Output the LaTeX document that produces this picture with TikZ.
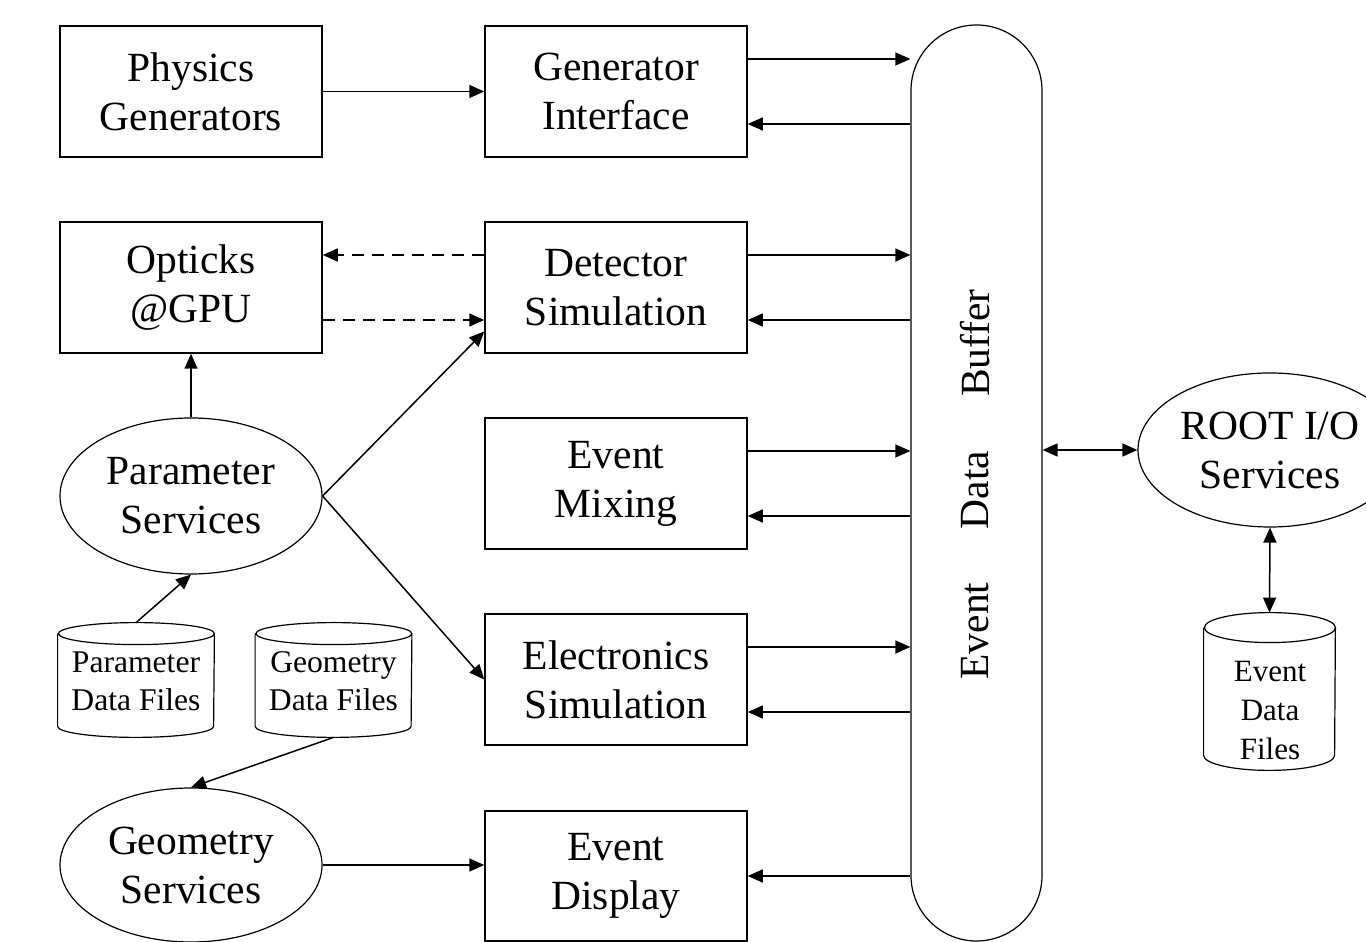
\documentclass[tikz,border=0pt]{standalone}
\usepackage{fontspec}
\setmainfont{Liberation Serif}
\usetikzlibrary{shapes.geometric,arrows.meta,calc}
\newcommand\mycyl[3]{%
  \draw[line width=0.6pt] ($(#1.north west)+(0pt,-#3)$) -- ($(#1.south west)+(0pt,#3)$)
    arc[start angle=180,end angle=360,x radius=#2,y radius=#3]
    -- ($(#1.north east)+(0pt,-#3)$)
    arc[start angle=0,end angle=180,x radius=#2,y radius=#3]
    arc[start angle=180,end angle=360,x radius=#2,y radius=#3];
}
\begin{document}
\begin{tikzpicture}[x=0.5pt,y=0.5pt,
  every node/.style={font=\fontsize{20.75}{24.5}\selectfont, align=center, inner sep=0pt},
  box/.style={draw, line width=0.75pt, minimum width=131pt, minimum height=65.5pt},
  ell/.style={draw, line width=0.6pt, ellipse, minimum width=131pt, minimum height=78pt},
  arr/.style={line width=0.75pt, -{Triangle[length=7.5pt,width=6.5pt]}},
  darr/.style={arr, dash pattern=on 6pt off 4pt},
  barr/.style={line width=0.75pt, {Triangle[length=7.5pt,width=6.5pt]}-{Triangle[length=7.5pt,width=6.5pt]}},
  cylshape/.style={minimum width=78pt, minimum height=57pt},
  cyltext/.style={font=\fontsize{15.8}{19}\selectfont}
]
\clip (0,0) rectangle (1366,942);
\fill[white] (0,0) rectangle (1366,942);

% boxes
\node[box] (PG) at (191,850.5) {Physics\\Generators};
\node[box] (GI) at (616,850.5) {Generator\\Interface};
\node[box] (OP) at (191,654.5) {Opticks\\@GPU};
\node[box] (DS) at (616,654.5) {Detector\\Simulation};
\node[box] (EM) at (616,458.5) {Event\\Mixing};
\node[box] (ES) at (616,262.5) {Electronics\\Simulation};
\node[box, minimum height=65pt] (ED) at (616,66) {Event\\Display};

% buffer pill
\node[draw, line width=0.6pt, rounded corners=32.75pt, minimum width=65.5pt, minimum height=458pt] (P) at (976.5,459) {};
\node[rotate=90] (bEv) at (975,311) {Event};
\node[rotate=90] (bDa) at (975,452) {Data};
\node[rotate=90] (bBu) at (975,599) {Buffer};

% ellipses
\node[ell] (PS) at (191,446) {Parameter\\Services};
\node[ell, minimum height=77pt] (GS) at (191,77) {Geometry\\Services};
\node[ell, minimum width=132pt, minimum height=77pt] (RO) at (1270,492) {};
\node (ROt) at (1270,492) {ROOT I/O\\Services};

% cylinders
\node[cylshape] (PDF) at (136,262) {};
\mycyl{PDF}{39pt}{5.5pt}
\node[cyltext] (PDFt) at (136,261) {Parameter\\Data Files};
\node[cylshape] (GDF) at (333.5,262) {};
\mycyl{GDF}{39pt}{5.5pt}
\node[cyltext] (GDFt) at (333.5,261) {Geometry\\Data Files};
\node[minimum width=65.5pt, minimum height=78.5pt] (EDF) at (1269.5,250.5) {};
\mycyl{EDF}{32.75pt}{7.5pt}
\node[cyltext, font=\fontsize{15.5}{19.5}\selectfont] (EDFt) at (1270,231) {Event\\Data\\Files};

% connectors
\draw[arr] (PG) -- (GI);
\foreach \b in {GI,DS,EM,ES}{
  \coordinate (\b o) at ([yshift=16.25pt]\b.east);
  \coordinate (\b i) at ([yshift=-16.25pt]\b.east);
  \draw[arr] (\b o) -- (\b o -| P.west);
  \draw[arr] (\b i -| P.west) -- (\b i);
}
\draw[arr] (ED.east -| P.west) -- (ED.east);

\coordinate (dso) at ([yshift=16.25pt]DS.west);
\coordinate (dsi) at ([yshift=-16.25pt]DS.west);
\draw[darr] (dso) -- (dso -| OP.east);
\draw[darr] (dsi -| OP.east) -- (dsi);

\draw[arr] (PS.north) -- (OP.south);
\draw[arr] (PS.east) -- ([yshift=-22pt]DS.west);
\draw[arr] (PS.east) -- (ES.west);
\draw[arr] (PDF.north) -- (PS.south);
\draw[arr] (GDF.south) -- (GS.north);
\draw[arr] (GS.east) -- (GS.east -| ED.west);
\draw[barr] (RO.west -| P.east) -- (RO.west);
\draw[barr] (RO.south) -- (EDF.north);
\end{tikzpicture}
\end{document}
